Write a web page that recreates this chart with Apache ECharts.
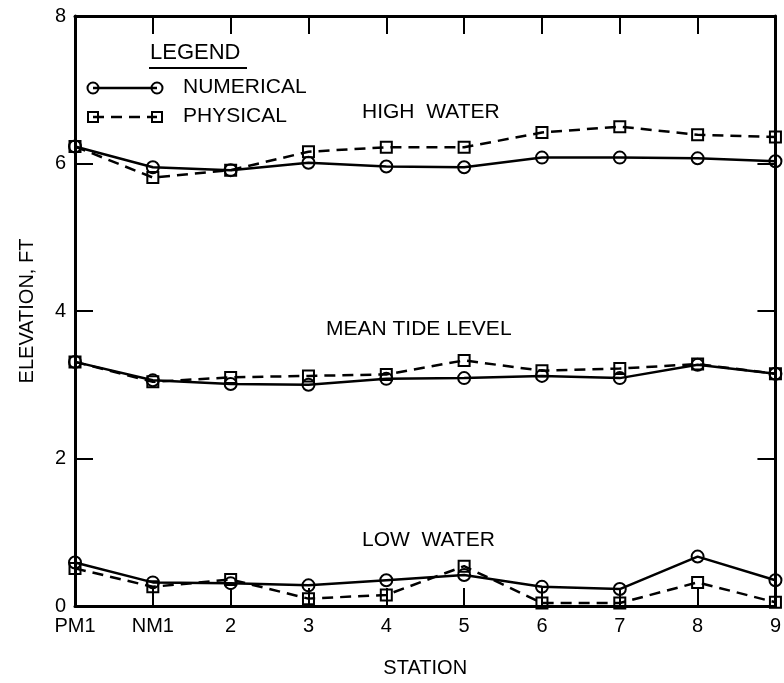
<!DOCTYPE html>
<html>
<head>
<meta charset="utf-8">
<script src="https://cdn.jsdelivr.net/npm/echarts@6/dist/echarts.min.js"></script>
<style>
  html, body { margin: 0; padding: 0; background: #fff; }
  #main { width: 784px; height: 683px; }
</style>
</head>
<body>
<div id="main"></div>
<script>
var stations = ['PM1', 'NM1', '2', '3', '4', '5', '6', '7', '8', '9'];
var yTicks = [0, 2, 4, 6, 8];

// high water
var highNum = [6.23, 5.95, 5.91, 6.01, 5.96, 5.95, 6.08, 6.08, 6.07, 6.03];
var highPhy = [6.23, 5.81, 5.91, 6.16, 6.22, 6.22, 6.42, 6.50, 6.39, 6.36];
// mean tide level
var meanNum = [3.31, 3.06, 3.01, 3.00, 3.08, 3.09, 3.12, 3.09, 3.27, 3.15];
var meanPhy = [3.31, 3.04, 3.10, 3.12, 3.14, 3.33, 3.19, 3.22, 3.28, 3.15];
// low water
var lowNum = [0.59, 0.32, 0.31, 0.28, 0.35, 0.42, 0.26, 0.23, 0.67, 0.35];
var lowPhy = [0.51, 0.26, 0.36, 0.10, 0.15, 0.54, 0.04, 0.04, 0.32, 0.05];

var FONT = '"Liberation Sans", Arial, sans-serif';
var chart = echarts.init(document.getElementById('main'));

function numSeries(name, data) {
  return {
    name: name,
    type: 'line',
    data: data,
    symbol: 'circle',
    symbolSize: 12,
    lineStyle: { color: '#000', width: 2.5, type: 'solid' },
    itemStyle: { color: 'transparent', borderColor: '#000', borderWidth: 2 },
    emphasis: { disabled: true },
    animation: false,
    z: 3
  };
}
function phySeries(name, data) {
  return {
    name: name,
    type: 'line',
    data: data,
    symbol: 'rect',
    symbolSize: 11,
    lineStyle: { color: '#000', width: 2.5, type: [11, 7] },
    itemStyle: { color: 'transparent', borderColor: '#000', borderWidth: 2 },
    emphasis: { disabled: true },
    animation: false,
    z: 2
  };
}

var axisLine = { show: true, onZero: false, lineStyle: { color: '#000', width: 3 } };
var tick = { show: true, inside: true, length: 18, lineStyle: { color: '#000', width: 2 } };
var txt = { color: '#000', fontFamily: FONT, fontSize: 20 };

var option = {
  backgroundColor: '#fff',
  animation: false,
  grid: { left: 75, right: 6, top: 16, bottom: 75 },
  xAxis: [{
    type: 'category',
    data: stations,
    boundaryGap: false,
    position: 'bottom',
    axisLine: axisLine,
    axisTick: Object.assign({ alignWithLabel: true }, tick),
    axisLabel: Object.assign({ margin: 10 }, txt),
    name: 'STATION',
    nameLocation: 'middle',
    nameGap: 52,
    nameTextStyle: txt,
    splitLine: { show: false }
  }, {
    type: 'category',
    data: stations,
    boundaryGap: false,
    position: 'top',
    axisLine: axisLine,
    axisTick: tick,
    axisLabel: { show: false },
    splitLine: { show: false }
  }],
  yAxis: [{
    type: 'value',
    min: 0,
    max: 8,
    interval: 2,
    position: 'left',
    axisLine: axisLine,
    axisTick: tick,
    axisLabel: Object.assign({ margin: 9, formatter: function (v) { return yTicks.indexOf(v) >= 0 ? String(v) : ''; } }, txt),
    name: 'ELEVATION, FT',
    nameLocation: 'middle',
    nameGap: 38,
    nameRotate: 90,
    nameTextStyle: txt,
    splitLine: { show: false }
  }, {
    type: 'value',
    min: 0,
    max: 8,
    interval: 2,
    position: 'right',
    axisLine: axisLine,
    axisTick: tick,
    axisLabel: { show: false },
    splitLine: { show: false }
  }],
  series: [
    numSeries('NUMERICAL', highNum),
    phySeries('PHYSICAL', highPhy),
    numSeries('NUMERICAL', meanNum),
    phySeries('PHYSICAL', meanPhy),
    numSeries('NUMERICAL', lowNum),
    phySeries('PHYSICAL', lowPhy)
  ],
  graphic: [
    // legend
    { type: 'text', left: 150, top: 42, style: { text: 'LEGEND', font: '22px ' + FONT, fill: '#000' } },
    { type: 'line', shape: { x1: 149, y1: 68, x2: 247, y2: 68 }, style: { stroke: '#000', lineWidth: 2 } },
    { type: 'line', shape: { x1: 93, y1: 88, x2: 157, y2: 88 }, style: { stroke: '#000', lineWidth: 2.5 } },
    { type: 'circle', shape: { cx: 93, cy: 88, r: 5.5 }, style: { fill: 'transparent', stroke: '#000', lineWidth: 2 } },
    { type: 'circle', shape: { cx: 157, cy: 88, r: 5.5 }, style: { fill: 'transparent', stroke: '#000', lineWidth: 2 } },
    { type: 'text', left: 183, top: 77, style: { text: 'NUMERICAL', font: '21px ' + FONT, fill: '#000' } },
    { type: 'line', shape: { x1: 93, y1: 117, x2: 157, y2: 117 }, style: { stroke: '#000', lineWidth: 2.5, lineDash: [11, 7] } },
    { type: 'rect', shape: { x: 88, y: 112, width: 10, height: 10 }, style: { fill: 'transparent', stroke: '#000', lineWidth: 2 } },
    { type: 'rect', shape: { x: 152, y: 112, width: 10, height: 10 }, style: { fill: 'transparent', stroke: '#000', lineWidth: 2 } },
    { type: 'text', left: 183, top: 106, style: { text: 'PHYSICAL', font: '21px ' + FONT, fill: '#000' } },
    // band labels
    { type: 'text', left: 362, top: 102, style: { text: 'HIGH  WATER', font: '21px ' + FONT, fill: '#000' } },
    { type: 'text', left: 326, top: 319, style: { text: 'MEAN TIDE LEVEL', font: '21px ' + FONT, fill: '#000' } },
    { type: 'text', left: 362, top: 530, style: { text: 'LOW  WATER', font: '21px ' + FONT, fill: '#000' } }
  ]
};
chart.setOption(option);
</script>
</body>
</html>
